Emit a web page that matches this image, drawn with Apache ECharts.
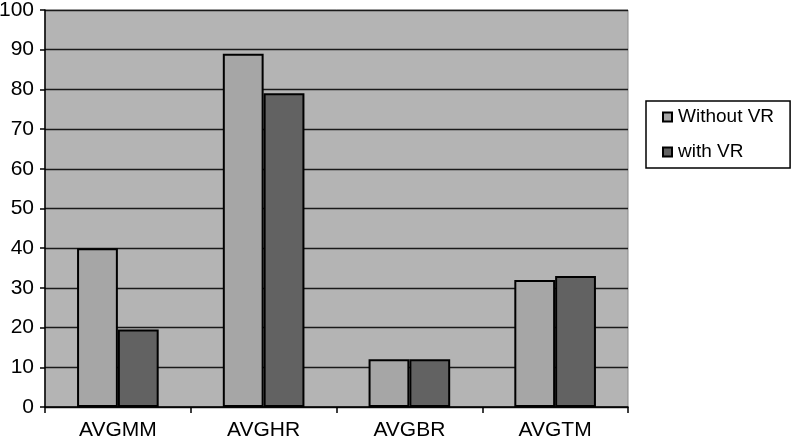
<!DOCTYPE html>
<html><head><meta charset="utf-8">
<script src="https://cdn.jsdelivr.net/npm/echarts@6/dist/echarts.min.js"></script>
<style>html,body{margin:0;padding:0;background:#fff}#c{width:791px;height:440px}</style>
</head><body><div id="c"></div>
<script>
const categories = ['AVGMM', 'AVGHR', 'AVGBR', 'AVGTM'];
const withoutVR = [40, 89, 12, 32];
const withVR = [19.5, 79, 12, 33];
const seriesNames = ['Without VR', 'with VR'];

const chart = echarts.init(document.getElementById('c'));
const font = 'Liberation Sans, Arial, sans-serif';
chart.setOption({
  animation: false,
  grid: { left: 45, right: 163, top: 10, bottom: 33, containLabel: false, outerBoundsMode: 'none',
          show: true, backgroundColor: '#b4b4b4', borderColor: '#8a8a8a', borderWidth: 1 },
  legend: {
    orient: 'vertical', left: 646, top: 101,
    data: seriesNames,
    icon: 'rect', itemWidth: 9, itemHeight: 9, itemGap: 15,
    padding: [6, 16, 6, 16],
    borderColor: '#000', borderWidth: 1.5,
    textStyle: { fontFamily: font, fontSize: 19, color: '#000', lineHeight: 20, padding: [0, 0, 0, 1] }
  },
  xAxis: {
    type: 'category', data: categories,
    axisLine: { lineStyle: { color: '#000', width: 1.5 } },
    axisTick: { show: true, length: 6, lineStyle: { color: '#000', width: 1.5 } },
    axisLabel: { fontFamily: font, fontSize: 21, color: '#000', margin: 13 }
  },
  yAxis: {
    type: 'value', min: 0, max: 100, interval: 10,
    axisLine: { show: true, lineStyle: { color: '#000', width: 1.5 } },
    axisTick: { show: true, length: 5, lineStyle: { color: '#000', width: 1.5 } },
    axisLabel: { fontFamily: font, fontSize: 21, color: '#000', margin: 11 },
    splitLine: { lineStyle: { color: '#1a1a1a', width: 1.3 } }
  },
  series: [
    { name: seriesNames[0], type: 'bar', data: withoutVR, barGap: '0%', barCategoryGap: '44%',
      itemStyle: { color: '#a6a6a6', borderColor: '#000', borderWidth: 2 } },
    { name: seriesNames[1], type: 'bar', data: withVR,
      itemStyle: { color: '#626262', borderColor: '#000', borderWidth: 2 } }
  ]
});
</script></body></html>
